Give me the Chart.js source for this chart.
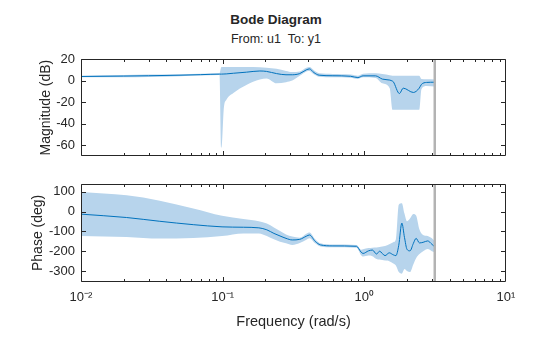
<!DOCTYPE html>
<html>
<head>
<meta charset="utf-8">
<script src="https://cdn.jsdelivr.net/npm/chart.js@4.4.1/dist/chart.umd.min.js"></script>
<style>
body { margin: 0; background: #fff; width: 560px; height: 337px; overflow: hidden; position: relative;
       font-family: "Liberation Sans", Arial, sans-serif; color: #262626; }
canvas { position: absolute; left: 0; }
#magChart { top: 40px; }
#phaseChart { top: 170px; }
.title { position: absolute; left: 0; width: 552px; text-align: center; white-space: pre; }
</style>
</head>
<body>
<div class="title" style="top:12px;font-weight:bold;font-size:13.5px;">Bode Diagram</div>
<div class="title" style="top:32px;font-size:12.5px;">From: u1  To: y1</div>
<canvas id="magChart" width="560" height="130"></canvas>
<canvas id="phaseChart" width="560" height="167"></canvas>
<script>
// values (rad/s, dB, deg)
const magFreq   = [0.01, 0.02, 0.03, 0.05, 0.07, 0.095, 0.098, 0.102, 0.106, 0.119, 0.147, 0.183, 0.204, 0.24, 0.28, 0.31, 0.35, 0.39, 0.41, 0.44, 0.48, 0.6, 0.8, 0.9, 0.98, 1.2, 1.34, 1.51, 1.58, 1.6, 1.77, 1.88, 2.22, 2.44, 2.53, 2.75, 3.14];
const magValues = [3.8, 4.2, 4.5, 5.0, 5.5, 6.0, 6.0, 6.1, 6.2, 6.8, 7.8, 8.9, 8.5, 6.5, 5.4, 5.4, 6.5, 10, 10.8, 7.5, 5.0, 4.5, 4.0, 2.8, 4.4, 4.4, 1.4, 0.5, -0.5, -1, -12, -7, -11, -7, -3.5, -1.7, -1.5];
const magUpper  = [4.6, 5.2, 5.6, 5.9, 6.3, 6.7, 12.5, 12.5, 12.5, 12.5, 12.5, 12.3, 12, 11, 9, 8, 8.5, 12, 12.5, 9.5, 6.8, 6.2, 5.6, 4.5, 6.3, 6.8, 6.0, 5.0, 4.5, 4.5, 4.5, 4.5, 4.5, 4.5, 1.5, 1.2, 1.0];
const magLower  = [3.0, 3.2, 3.4, 4.1, 4.7, 5.3, -62, -25, -18, -11.5, -4, 1, 2, -2.5, -1.5, 0, 4.4, 8.5, 9, 5.8, 3.5, 3.0, 2.6, 1.5, 3.0, 2.5, -2.5, -7, -27, -27, -27, -27, -27, -27, -8, -5, -5.5];

const phaseFreq   = [0.01, 0.021, 0.036, 0.062, 0.099, 0.14, 0.18, 0.205, 0.23, 0.254, 0.28, 0.31, 0.35, 0.39, 0.41, 0.45, 0.49, 0.6, 0.88, 0.95, 0.98, 1.07, 1.14, 1.22, 1.28, 1.4, 1.5, 1.6, 1.67, 1.75, 1.84, 1.92, 2.0, 2.1, 2.22, 2.32, 2.45, 2.6, 2.8, 3.0, 3.14];
const phaseValues = [-13, -30, -49, -66, -77, -79, -82, -92, -110, -123, -135, -143, -140, -124, -118, -150, -168, -173, -175, -205, -211, -198, -194, -214, -200, -222, -208, -218, -222, -170, -58, -130, -190, -198, -160, -135, -158, -155, -148, -165, -178];
const phaseUpper  = [99, 82, 55, 16, -21, -38, -49, -60, -80, -98, -115, -126, -132, -112, -106, -140, -160, -166, -168, -192, -190, -184, -182, -181, -178, -173, -165, -155, -140, 35, 42, -10, -49, -35, -12, -20, -90, -118, -123, -135, -150];
const phaseLower  = [-123, -128, -136, -133, -123, -110, -110, -123, -140, -152, -160, -168, -158, -142, -134, -160, -176, -180, -182, -220, -227, -222, -225, -239, -242, -247, -250, -262, -272, -305, -313, -290, -300, -305, -265, -235, -214, -200, -189, -200, -206];

const xTicks = [0.01, 0.1, 1, 10];
const xTickLabels = ['10\u207B\u00B2', '10\u207B\u00B9', '10\u2070', '10\u00B9'];
const magTicks = [-60, -40, -20, 0, 20];
const phaseTicks = [-300, -200, -100, 0, 100];
const nyquist = 3.1416;

const lineColor = 'rgb(0,114,189)';
const bandColor = 'rgb(183,212,236)';
const axisColor = '#262626';
const fontFamily = '"Liberation Sans", Arial, sans-serif';

function points(xs, ys) {
    return xs.map((x, i) => ({ x: x, y: ys[i] }));
}

function datasets(xs, mid, up, low) {
    return [
        { data: points(xs, mid), borderColor: lineColor, borderWidth: 1, order: 0, fill: false },
        { data: points(xs, up), borderWidth: 0, backgroundColor: bandColor, order: 1, fill: '+1' },
        { data: points(xs, low), borderWidth: 0, order: 1, fill: false }
    ];
}

// box, inward tick marks and the nyquist line
const frame = {
    id: 'frame',
    afterDatasetsDraw(chart) {
        const ctx = chart.ctx;
        const a = chart.chartArea;
        const xs = chart.scales.x;
        const ys = chart.scales.y;
        const L = Math.round(a.left) + 0.5, R = Math.round(a.right) - 0.5;
        const T = Math.round(a.top) + 0.5, B = Math.round(a.bottom) - 0.5;
        ctx.save();
        const nx = xs.getPixelForValue(nyquist);
        ctx.strokeStyle = '#b3b3b3';
        ctx.lineWidth = 2.5;
        ctx.beginPath();
        ctx.moveTo(nx, T);
        ctx.lineTo(nx, B);
        ctx.stroke();

        ctx.strokeStyle = axisColor;
        ctx.lineWidth = 1;
        ctx.beginPath();
        for (let e = -2; e < 1; e++) {
            for (let m = 1; m < 10; m++) {
                const px = Math.round(xs.getPixelForValue(m * Math.pow(10, e))) + 0.5;
                const len = m === 1 ? 4.5 : 2.5;
                ctx.moveTo(px, B); ctx.lineTo(px, B - len);
                ctx.moveTo(px, T); ctx.lineTo(px, T + len);
            }
        }
        ys.ticks.forEach(t => {
            const py = Math.round(ys.getPixelForValue(t.value)) + 0.5;
            ctx.moveTo(L, py); ctx.lineTo(L + 4.5, py);
            ctx.moveTo(R, py); ctx.lineTo(R - 4.5, py);
        });
        ctx.rect(L, T, R - L, B - T);
        ctx.stroke();
        ctx.restore();
    }
};

function yAxis(min, max, ticks, label, labelPad) {
    return {
        min: min,
        max: max,
        afterFit(s) { s.width = 81; },
        afterBuildTicks(s) { s.ticks = ticks.map(v => ({ value: v })); },
        grid: { display: false, drawTicks: false },
        border: { display: false },
        ticks: { color: axisColor, font: { family: fontFamily, size: 13 }, padding: 6 },
        title: { display: true, text: label, color: axisColor,
                 font: { family: fontFamily, size: 14 }, padding: { top: labelPad, bottom: 0 } }
    };
}

const baseOptions = {
    responsive: false,
    animation: false,
    devicePixelRatio: 1,
    elements: { point: { radius: 0 }, line: { cubicInterpolationMode: 'monotone' } },
    plugins: { legend: { display: false }, tooltip: { enabled: false } }
};

new Chart('magChart', {
    type: 'line',
    plugins: [frame],
    data: { datasets: datasets(magFreq, magValues, magUpper, magLower) },
    options: Object.assign({}, baseOptions, {
        layout: { padding: { top: 19, right: 54, bottom: 12, left: 0 } },
        scales: {
            x: { type: 'logarithmic', min: 0.01, max: 10, display: false },
            y: yAxis(-70, 20, magTicks, 'Magnitude (dB)', 38)
        }
    })
});

new Chart('phaseChart', {
    type: 'line',
    plugins: [frame],
    data: { datasets: datasets(phaseFreq, phaseValues, phaseUpper, phaseLower) },
    options: Object.assign({}, baseOptions, {
        layout: { padding: { top: 12, right: 54, bottom: 0, left: 0 } },
        scales: {
            x: {
                type: 'logarithmic', min: 0.01, max: 10,
                afterFit(s) { s.height = 55; },
                afterBuildTicks(s) { s.ticks = xTicks.map(v => ({ value: v })); },
                grid: { display: false, drawTicks: false },
                border: { display: false },
                ticks: { color: axisColor, font: { family: fontFamily, size: 13 }, padding: 8,
                         autoSkip: false, maxRotation: 0,
                         callback: (v, i) => xTickLabels[i] },
                title: { display: true, text: 'Frequency (rad/s)', color: axisColor,
                         font: { family: fontFamily, size: 14.5 }, padding: { top: 0, bottom: 6 } }
            },
            y: yAxis(-355, 140, phaseTicks, 'Phase (deg)', 30)
        }
    })
});
</script>
</body>
</html>
